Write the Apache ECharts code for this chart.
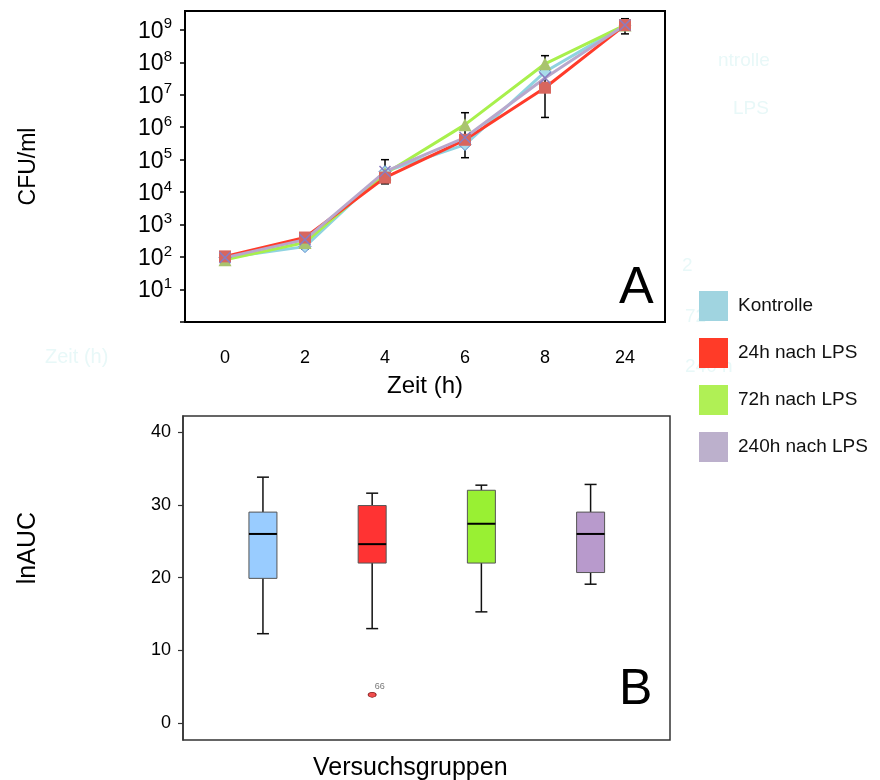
<!DOCTYPE html>
<html>
<head>
<meta charset="utf-8">
<script src="https://cdn.jsdelivr.net/npm/echarts@6/dist/echarts.min.js"></script>
<style>
html, body { margin: 0; padding: 0; background: #fff; }
#main { width: 880px; height: 780px; }
</style>
</head>
<body>
<div id="main"></div>
<script>
// Abb. A: Wachstum (CFU/ml) ueber die Zeit
var zeit = ['0', '2', '4', '6', '8', '24'];
var kontrolle = [96, 210, 4.3e4, 2.9e5, 5.1e7, 1.4e9];
var lps24 = [105, 400, 2.8e4, 4.1e5, 1.65e7, 1.4e9];
var lps72 = [83, 280, 3.7e4, 1.2e6, 9.0e7, 1.4e9];
var lps240 = [96, 345, 4.3e4, 4.8e5, 3.3e7, 1.4e9];
var fehlerIdx = [1, 2, 3, 4, 5];
var fehlerLow = [180, 1.8e4, 1.15e5, 2.0e6, 7.5e8];
var fehlerHigh = [530, 1.0e5, 2.8e6, 1.6e8, 2.2e9];
var exponenten = [1, 2, 3, 4, 5, 6, 7, 8, 9];

// Abb. B: lnAUC je Versuchsgruppe
var gruppen = ['Kontrolle', '24h nach LPS', '72h nach LPS', '240h nach LPS'];
var boxMin = [12.3, 13.0, 15.3, 19.1];
var boxQ1 = [19.9, 22.0, 22.0, 20.7];
var boxMed = [26.0, 24.6, 27.4, 26.0];
var boxQ3 = [29.0, 29.9, 32.0, 29.0];
var boxMax = [33.8, 31.6, 32.7, 32.8];
var ausreisserGruppe = [2];
var ausreisserWert = [3.9];
var ausreisserNr = ['66'];
var aucTicks = [0, 10, 20, 30, 40];

var font = 'Liberation Sans, Arial, sans-serif';
var boxFarben = ['#99ccff', '#ff3333', '#99f033', '#b89acc'];

function lg(v) { return Math.log10(v); }
function toLog(arr) { return arr.map(lg); }

var fehlerDaten = fehlerIdx.map(function (x, i) {
	return [x, lg(fehlerLow[i]), lg(fehlerHigh[i])];
});
var boxDaten = gruppen.map(function (g, i) {
	return [i + 1, boxMin[i], boxQ1[i], boxMed[i], boxQ3[i], boxMax[i]];
});
var ausreisserDaten = ausreisserGruppe.map(function (g, i) {
	return { value: [g, ausreisserWert[i]], name: ausreisserNr[i] };
});

var myChart = echarts.init(document.getElementById('main'));

var option = {
	animation: false,
	backgroundColor: '#fff',
	textStyle: { fontFamily: font },
	grid: [
		{ left: 185, top: 11, width: 480, height: 311, show: true, borderColor: '#000', borderWidth: 2, backgroundColor: 'transparent' },
		{ left: 183, top: 416, width: 487, height: 324, show: true, borderColor: '#333', borderWidth: 1.5, backgroundColor: 'transparent' }
	],
	legend: {
		orient: 'vertical',
		left: 694,
		top: 286,
		icon: 'rect',
		itemWidth: 29,
		itemHeight: 30,
		itemGap: 17,
		textStyle: { fontSize: 19, color: '#111', fontFamily: font, padding: [0, 0, 0, 5] },
		data: [
			{ name: 'Kontrolle', itemStyle: { color: '#a0d4e0', borderWidth: 0 } },
			{ name: '24h nach LPS', itemStyle: { color: '#ff3b28', borderWidth: 0 } },
			{ name: '72h nach LPS', itemStyle: { color: '#b0f055', borderWidth: 0 } },
			{ name: '240h nach LPS', itemStyle: { color: '#bcb0cc', borderWidth: 0 } }
		]
	},
	xAxis: [
		{
			gridIndex: 0,
			type: 'category',
			data: zeit,
			boundaryGap: true,
			axisLine: { lineStyle: { color: '#000', width: 2 } },
			axisTick: { alignWithLabel: false, length: 6, lineStyle: { color: '#000', width: 1.5 } },
			axisLabel: { fontSize: 18, color: '#000', margin: 27 },
			name: 'Zeit (h)',
			nameLocation: 'middle',
			nameGap: 52,
			nameTextStyle: { fontSize: 24, color: '#000' }
		},
		{
			gridIndex: 1,
			type: 'value',
			min: 0.268,
			max: 4.727,
			show: false
		}
	],
	yAxis: [
		{
			gridIndex: 0,
			type: 'value',
			min: 0,
			max: 9.58,
			splitLine: { show: false },
			axisLine: { show: true, lineStyle: { color: '#000', width: 2 } },
			axisTick: { show: true, length: 5, lineStyle: { color: '#000', width: 1.5 }, customValues: [0].concat(exponenten) },
			axisLabel: {
				customValues: exponenten,
				margin: 13,
				formatter: function (v) { return '{b|10}{s|' + Math.round(v) + '}'; },
				rich: {
					b: { fontSize: 23, color: '#000', fontFamily: font, verticalAlign: 'bottom' },
					s: { fontSize: 15, color: '#000', fontFamily: font, verticalAlign: 'top', padding: [0, 0, 11, 0] }
				}
			},
			name: 'CFU/ml',
			nameLocation: 'middle',
			nameGap: 145,
			nameRotate: 90,
			nameTextStyle: { fontSize: 23, color: '#000' }
		},
		{
			gridIndex: 1,
			type: 'value',
			min: -2.3,
			max: 42.2,
			splitLine: { show: false },
			axisLine: { show: true, lineStyle: { color: '#333', width: 1.5 } },
			axisTick: { show: true, length: 5, customValues: aucTicks, lineStyle: { color: '#333', width: 1.2 } },
			axisLabel: { customValues: aucTicks, fontSize: 18, color: '#000', margin: 12 }
		}
	],
	series: [
		{
			name: 'Kontrolle', type: 'line', xAxisIndex: 0, yAxisIndex: 0,
			data: toLog(kontrolle),
			lineStyle: { color: '#8fd3e0', width: 3 },
			symbol: 'diamond', symbolSize: 12,
			itemStyle: { color: '#a8dcea', borderColor: '#5a8ad0', borderWidth: 1 }
		},
		{
			name: '72h nach LPS', type: 'line', xAxisIndex: 0, yAxisIndex: 0,
			data: toLog(lps72),
			lineStyle: { color: '#a8f04c', width: 3 },
			symbol: 'triangle', symbolSize: 13,
			itemStyle: { color: '#a9c36e' }
		},
		{
			name: '24h nach LPS', type: 'line', xAxisIndex: 0, yAxisIndex: 0,
			data: toLog(lps24),
			lineStyle: { color: '#ff3b2a', width: 3 },
			symbol: 'rect', symbolSize: 12,
			itemStyle: { color: '#d8665e' }
		},
		{
			name: '240h nach LPS', type: 'line', xAxisIndex: 0, yAxisIndex: 0,
			data: toLog(lps240),
			lineStyle: { color: '#b8a8cc', width: 3 },
			symbol: 'path://M0,0L10,10M0,10L10,0', symbolSize: 11,
			itemStyle: { color: 'rgba(0,0,0,0)', borderColor: '#8a7cc0', borderWidth: 1.5 }
		},
		{
			name: 'Fehler', type: 'custom', xAxisIndex: 0, yAxisIndex: 0,
			data: fehlerDaten,
			z: 1,
			renderItem: function (params, api) {
				var lo = api.coord([api.value(0), api.value(1)]);
				var hi = api.coord([api.value(0), api.value(2)]);
				var c = 4;
				var st = { stroke: '#000', lineWidth: 1.5 };
				return {
					type: 'group',
					children: [
						{ type: 'line', shape: { x1: lo[0], y1: lo[1], x2: hi[0], y2: hi[1] }, style: st },
						{ type: 'line', shape: { x1: lo[0] - c, y1: lo[1], x2: lo[0] + c, y2: lo[1] }, style: st },
						{ type: 'line', shape: { x1: hi[0] - c, y1: hi[1], x2: hi[0] + c, y2: hi[1] }, style: st }
					]
				};
			}
		},
		{
			name: 'lnAUC', type: 'custom', xAxisIndex: 1, yAxisIndex: 1,
			data: boxDaten,
			renderItem: function (params, api) {
				var x = api.value(0);
				var pMin = api.coord([x, api.value(1)]);
				var pQ1 = api.coord([x, api.value(2)]);
				var pMed = api.coord([x, api.value(3)]);
				var pQ3 = api.coord([x, api.value(4)]);
				var pMax = api.coord([x, api.value(5)]);
				var cx = pMin[0], w = 28, cap = 6;
				var st = { stroke: '#111', lineWidth: 1.5 };
				return {
					type: 'group',
					children: [
						{ type: 'line', shape: { x1: cx, y1: pMax[1], x2: cx, y2: pQ3[1] }, style: st },
						{ type: 'line', shape: { x1: cx, y1: pQ1[1], x2: cx, y2: pMin[1] }, style: st },
						{ type: 'line', shape: { x1: cx - cap, y1: pMax[1], x2: cx + cap, y2: pMax[1] }, style: st },
						{ type: 'line', shape: { x1: cx - cap, y1: pMin[1], x2: cx + cap, y2: pMin[1] }, style: st },
						{ type: 'rect', shape: { x: cx - w / 2, y: pQ3[1], width: w, height: pQ1[1] - pQ3[1] },
							style: { fill: boxFarben[params.dataIndex], stroke: '#555', lineWidth: 1 } },
						{ type: 'line', shape: { x1: cx - w / 2, y1: pMed[1], x2: cx + w / 2, y2: pMed[1] },
							style: { stroke: '#000', lineWidth: 2 } }
					]
				};
			}
		},
		{
			name: 'Ausreisser', type: 'scatter', xAxisIndex: 1, yAxisIndex: 1,
			data: ausreisserDaten,
			symbol: 'circle', symbolSize: [8, 5],
			itemStyle: { color: '#ee2222', borderColor: '#660000', borderWidth: 0.8 },
			label: {
				show: true, position: [7, -10], fontSize: 9, color: '#555',
				formatter: function (p) { return p.name; }
			}
		}
	],
	graphic: [
		{ type: 'text', z: 0, left: 45, top: 347, style: { text: 'Zeit (h)', fill: '#e8f8f8', font: '20px ' + font } },
		{ type: 'text', z: 0, left: 718, top: 51, style: { text: 'ntrolle', fill: '#e8f8f8', font: '19px ' + font } },
		{ type: 'text', z: 0, left: 733, top: 99, style: { text: 'LPS', fill: '#e8f8f8', font: '19px ' + font } },
		{ type: 'text', z: 0, left: 682, top: 256, style: { text: '2', fill: '#e8f8f8', font: '19px ' + font } },
		{ type: 'text', z: 0, left: 685, top: 307, style: { text: '72', fill: '#e8f8f8', font: '19px ' + font } },
		{ type: 'text', z: 0, left: 685, top: 357, style: { text: '240 h', fill: '#e8f8f8', font: '19px ' + font } },
		{ type: 'text', left: 619, top: 263, style: { text: 'A', fill: '#000', font: '52px ' + font } },
		{ type: 'text', left: 619, top: 665, style: { text: 'B', fill: '#000', font: '50px ' + font } },
		{ type: 'text', left: 16, top: 512, rotation: Math.PI / 2, style: { text: 'lnAUC', fill: '#000', font: '25px ' + font } },
		{ type: 'text', left: 313, top: 756, style: { text: 'Versuchsgruppen', fill: '#000', font: '25px ' + font } }
	]
};

myChart.setOption(option);
</script>
</body>
</html>
